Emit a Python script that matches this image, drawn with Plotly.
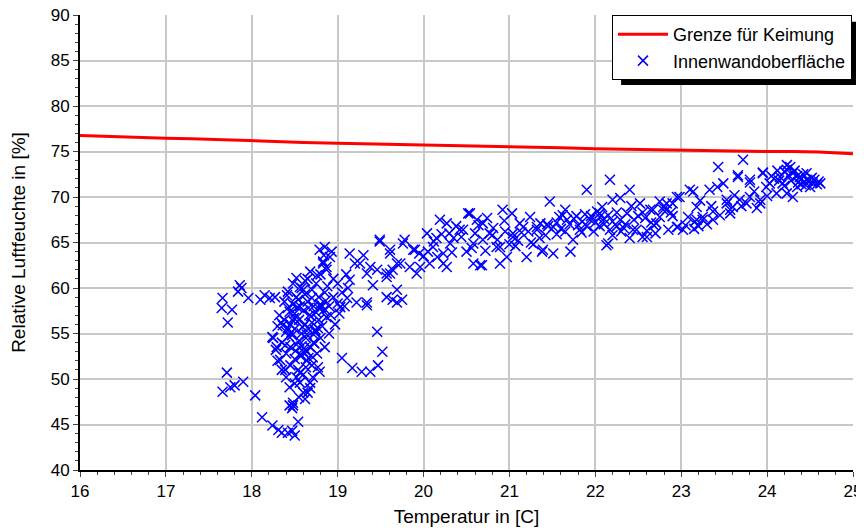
import plotly.graph_objects as go

# ── Grenzkurve (Keimung) ──────────────────────────────────────────────────────
grenze_t = [16.0, 16.3, 16.6, 17.0, 17.3, 17.6, 18.0, 18.3, 18.6, 19.0, 19.3, 19.6,
            20.0, 20.3, 20.6, 21.0, 21.3, 21.6, 22.0, 22.3, 22.6, 23.0, 23.3, 23.6,
            24.0, 24.3, 24.6, 25.0]
grenze_rh = [76.75, 76.65, 76.6, 76.45, 76.4, 76.3, 76.15, 76.1, 76.0, 75.9, 75.85, 75.8,
             75.7, 75.65, 75.55, 75.5, 75.45, 75.4, 75.3, 75.25, 75.2, 75.15, 75.1, 75.05,
             75.0, 75.0, 74.95, 74.75]

# ── Innenwandoberfläche: Temperatur / rel. Feuchte ───────────────────────────
wand_t = [
    17.66, 17.65, 17.77, 17.72, 17.86, 17.84, 17.88, 17.96, 18.1, 18.21, 17.71, 17.66, 17.75, 17.8,
    17.9, 18.04, 18.12, 18.24, 18.31, 18.35, 18.42, 18.5, 18.47, 18.54, 18.44, 18.48, 18.15, 18.41,
    18.27,
    18.39, 18.33, 18.29, 18.24, 18.44, 18.56, 18.6, 18.65, 18.48, 18.47, 18.68, 18.71, 18.77, 18.79,
    18.52, 18.55, 18.62,
    19.46, 19.52, 19.47, 19.38, 19.28, 19.17, 19.05, 19.34,
    18.25, 18.28, 18.3, 18.3, 18.32, 18.35, 18.35, 18.38, 18.38, 18.4, 18.4, 18.4, 18.42, 18.42,
    18.45, 18.45, 18.45, 18.47, 18.48, 18.48, 18.5, 18.5, 18.5, 18.5, 18.52, 18.52, 18.54, 18.55,
    18.55, 18.56, 18.57, 18.58, 18.58, 18.6, 18.6, 18.6, 18.62, 18.62, 18.63, 18.64, 18.65, 18.65,
    18.66, 18.67, 18.68, 18.68, 18.7, 18.7, 18.7, 18.72, 18.72, 18.74, 18.75, 18.75, 18.76, 18.78,
    18.78, 18.8, 18.8, 18.8, 18.82, 18.83, 18.85, 18.85, 18.87, 18.88, 18.9, 18.9, 18.92, 18.95,
    18.95, 18.97, 19.0, 19.0, 19.02, 19.05, 19.08, 19.1, 19.12,
    18.36, 18.43, 18.53, 18.61, 18.69, 18.57, 18.46, 18.34, 18.63, 18.73, 18.59, 18.51, 18.44,
    18.66, 18.77, 18.39, 18.49, 18.71, 18.81, 18.64,
    18.79, 18.85, 18.93, 18.83, 18.87, 18.76, 18.68, 18.52, 18.56, 18.6, 18.91, 18.83, 18.87, 18.84,
    19.14, 19.26, 19.34, 19.46, 19.57, 19.49, 19.61, 19.69, 19.64, 19.34, 19.22, 19.11, 19.03, 19.3,
    19.2, 19.38, 19.14, 19.41, 19.61, 19.75, 19.61, 19.49,
    19.78, 19.9, 19.57, 19.64, 19.73, 19.84, 19.92, 19.69, 19.57, 20.04, 20.19, 20.27, 20.11, 20.23,
    20.27, 20.07, 20.46, 20.54, 20.62, 20.58, 20.66, 20.69, 20.74, 20.89, 20.89, 20.92, 21.03, 21.04,
    21.16, 21.2, 21.32, 21.39,
    19.76, 19.69, 19.88, 19.96, 20.16, 20.23, 20.31, 20.42, 20.52, 20.58, 20.68, 20.69, 20.77, 20.85,
    20.97, 21.04, 21.12, 21.24, 21.32,
    20.0, 20.35, 20.5, 20.8, 21.0, 21.1, 21.25, 20.95, 20.6, 20.3, 20.15, 19.95,
    21.47, 21.51, 21.65, 21.67, 21.74, 21.82, 21.9, 21.94, 22.05, 22.17, 22.17, 22.2, 22.13, 21.38,
    21.51, 21.71, 22.15, 22.29, 22.4, 22.52, 22.48, 22.6, 22.71, 22.79, 22.83, 22.67, 22.29, 22.37,
    21.45, 21.55, 21.6, 21.7, 21.75, 21.8, 21.85, 21.9, 21.95, 22.0, 22.05, 22.1, 22.15, 22.2,
    22.25, 21.58, 21.65, 21.78, 21.88, 22.02, 21.42, 21.35, 21.55,
    22.05, 22.55, 22.44, 22.64, 22.79, 22.95, 22.95, 23.1, 23.18, 23.25, 23.37, 23.18, 23.33, 23.43,
    23.42, 23.49, 23.53, 23.57, 23.66, 23.72, 23.6, 23.76, 23.8, 23.92, 23.95, 23.99,
    23.66, 23.14, 22.98, 22.9, 22.83, 22.75, 22.96, 23.02, 23.16, 23.25, 23.37, 23.53, 23.57, 23.68,
    23.8, 23.92, 23.8, 23.95, 24.03, 24.11, 24.23, 24.27, 24.3, 24.38, 24.46, 24.53, 24.62, 24.35,
    24.23, 24.3, 24.15, 24.18, 24.5, 24.46, 24.23,
    24.2, 24.25, 24.32, 24.35, 24.4, 24.42, 24.48, 24.55, 24.58, 24.6, 24.28, 24.2, 24.12, 24.05,
    24.36, 24.45,
    22.1, 22.2, 22.3, 22.35, 22.45, 22.25, 22.5, 22.55, 22.4, 22.6, 22.7, 22.65, 22.85, 22.9, 22.75,
    23.05, 23.15, 23.3, 23.2,
    # zusätzliche Punkte im Band
    20.05, 20.12, 20.21, 20.33, 20.38, 20.44, 20.56, 20.64, 20.72, 20.81, 20.86, 20.94, 21.07, 21.14,
    21.22, 21.28, 21.36, 21.44, 21.62, 21.84, 21.98, 22.08, 22.33, 22.42, 22.58, 22.68, 22.88, 23.08,
    23.22, 23.35, 23.45, 23.62, 23.7, 23.85, 23.88, 24.0, 24.08, 24.14, 24.4, 24.52,
    18.58, 18.66, 18.74, 18.54, 18.62, 18.7, 18.48, 18.56, 18.64, 18.72, 18.42, 18.78, 18.86,
]
wand_rh = [
    58.9, 57.8, 57.6, 56.2, 60.3, 59.6, 60.0, 58.9, 58.7, 58.9, 50.7, 48.6, 49.1, 49.3,
    49.7, 48.2, 45.8, 44.9, 44.4, 44.1, 44.1, 43.8, 44.3, 45.3, 47.1, 47.4, 59.2, 59.2,
    59.0,
    51.0, 52.1, 53.5, 54.6, 49.1, 49.6, 48.5, 48.5, 47.1, 46.8, 49.6, 50.2, 51.3, 50.8,
    50.2, 48.0, 47.8,
    55.2, 53.0, 51.5, 50.8, 50.8, 51.2, 52.3, 58.1,
    54.5, 53.2, 55.8, 52.0, 57.0, 51.0, 54.0, 56.5, 58.5, 52.8, 55.2, 50.2, 57.8, 59.6,
    53.5, 56.0, 51.5, 54.8, 58.2, 60.5, 52.2, 55.5, 57.2, 49.5, 53.8, 59.0, 51.0, 56.5,
    54.2, 58.0, 52.5, 60.0, 55.0, 57.5, 53.0, 50.5, 56.0, 59.3, 54.5, 52.0, 58.5, 61.0,
    55.5, 57.0, 53.5, 49.0, 56.2, 59.8, 51.5, 54.0, 58.0, 55.2, 60.5, 57.3, 52.8, 56.5,
    59.0, 54.5, 58.2, 61.5, 55.8, 57.5, 59.5, 53.5, 56.8, 60.2, 58.0, 55.0, 57.0, 59.0,
    61.0, 56.0, 58.3, 60.5, 57.2, 59.5, 58.0, 61.5, 60.0,
    55.9, 54.7, 57.9, 53.4, 56.9, 52.7, 55.1, 56.2, 51.3, 53.9, 55.7, 53.1, 57.4,
    57.8, 55.6, 53.7, 56.7, 52.4, 57.9, 54.9,
    64.2, 64.5, 64.0, 62.7, 62.3, 61.4, 61.8, 61.1, 60.1, 59.8, 63.4, 62.9, 62.0, 63.6,
    63.8, 62.7, 61.6, 62.0, 61.2, 65.3, 63.8, 59.8, 58.7, 58.4, 58.4, 58.9, 57.9, 63.6,
    62.7, 62.3, 60.9, 60.3, 61.6, 58.7, 64.2, 65.1,
    65.3, 64.2, 61.6, 62.0, 62.7, 62.3, 61.6, 58.4, 59.0, 66.0, 67.5, 67.1, 64.5, 63.8,
    62.3, 62.7, 66.4, 68.2, 67.5, 62.7, 62.5, 65.3, 67.7, 64.5, 62.7, 68.6, 68.2, 65.6,
    66.7, 63.4, 66.4, 64.2,
    64.9, 62.7, 64.2, 62.3, 63.4, 62.7, 64.9, 66.4, 68.2, 64.9, 62.5, 67.1, 66.0, 64.5,
    63.4, 66.0, 67.1, 67.8, 66.7,
    63.5, 65.5, 64.0, 65.8, 64.8, 65.2, 65.0, 66.2, 66.0, 66.0, 65.5, 63.8,
    69.5, 66.7, 68.6, 67.5, 65.3, 66.4, 70.8, 67.5, 67.8, 71.9, 66.4, 69.7, 64.7, 64.0,
    63.8, 64.0, 64.9, 69.9, 70.8, 69.3, 66.4, 65.6, 67.1, 68.9, 69.3, 68.6, 67.5, 68.2,
    66.8, 67.2, 66.5, 67.0, 67.6, 66.9, 67.3, 66.8, 67.9, 67.2, 66.8, 67.6, 68.0, 67.3,
    68.3, 67.8, 66.2, 67.9, 68.1, 68.4, 65.8, 65.5, 65.9,
    68.2, 65.6, 66.4, 68.6, 68.6, 66.7, 70.0, 70.8, 68.9, 67.5, 67.5, 67.5, 70.8, 73.3,
    71.1, 71.5, 69.7, 68.2, 72.2, 74.1, 68.9, 69.3, 71.9, 69.7, 72.7, 71.1,
    72.4, 70.6, 70.0, 69.3, 68.6, 67.8, 66.7, 66.4, 67.3, 67.8, 68.4, 69.3, 68.6, 69.7,
    70.0, 69.3, 71.6, 72.6, 71.5, 70.4, 73.0, 73.3, 72.6, 72.2, 71.9, 71.6, 71.5, 71.1,
    70.4, 70.0, 72.2, 71.5, 71.1, 72.6, 73.5,
    72.8, 72.4, 72.9, 72.3, 72.0, 72.5, 71.8, 71.9, 71.4, 71.7, 71.8, 71.2, 72.9, 72.3,
    71.6, 71.3,
    67.0, 65.8, 66.2, 67.0, 67.5, 66.8, 67.9, 68.3, 65.5, 66.3, 66.0, 67.2, 66.4, 67.9, 69.5,
    66.9, 66.5, 67.0, 66.8,
    64.0, 65.1, 65.9, 63.9, 66.8, 65.6, 64.4, 66.9, 64.1, 66.6, 65.3, 67.4, 64.6, 66.1,
    66.2, 64.8, 67.1, 67.0, 68.0, 66.1, 66.2, 68.9, 66.6, 69.0, 67.7, 66.9, 68.3, 67.8,
    69.6, 69.0, 68.0, 70.2, 69.0, 70.6, 68.8, 70.1, 72.0, 71.8, 71.4, 72.1,
    53.6, 52.3, 55.4, 58.7, 60.8, 58.9, 56.4, 50.7, 53.0, 54.9, 55.6, 57.8, 58.6,
]

FONT = "Liberation Sans, Arial, sans-serif"

fig = go.Figure()
fig.add_trace(go.Scatter(
    x=grenze_t, y=grenze_rh,
    mode="lines",
    name="Grenze für Keimung",
    line=dict(color="#ff0000", width=3),
))
fig.add_trace(go.Scatter(
    x=wand_t, y=wand_rh,
    mode="markers",
    name="Innenwandoberfläche",
    marker=dict(symbol="x-thin", size=10, color="#0000ff",
                line=dict(color="#0000ff", width=1.5)),
))

# Schlagschatten der Legende
fig.add_shape(type="rect", xref="paper", yref="paper",
              x0=0.70, x1=1.009, y0=0.846, y1=0.985,
              fillcolor="black", line=dict(width=0), layer="above")

# die Seite hat 8 px Rand -> Figur 856x524
fig.update_layout(
    width=856, height=524,
    margin=dict(l=72, r=11, t=7, b=62),
    plot_bgcolor="white", paper_bgcolor="white",
    font=dict(family=FONT, size=16, color="black"),
    showlegend=True,
    legend=dict(x=0.9987, xanchor="right", y=1.0, yanchor="top",
                bgcolor="white", bordercolor="black", borderwidth=1,
                font=dict(size=18), tracegroupgap=0, itemwidth=50),
    xaxis=dict(
        range=[16, 25], dtick=1, showgrid=True, gridcolor="#c8c8c8", gridwidth=1.5,
        showline=True, linecolor="black", linewidth=2, ticks="outside", ticklen=5,
        tickcolor="#444", tickfont=dict(size=17), ticklabeloverflow="allow",
        minor=dict(dtick=0.2, ticks="outside", ticklen=3, tickcolor="#444", showgrid=False),
        title=dict(text="Temperatur in [C]", standoff=9), zeroline=False,
        automargin=False,
    ),
    yaxis=dict(
        range=[40, 90], dtick=5, showgrid=True, gridcolor="#c8c8c8", gridwidth=1.5,
        showline=True, linecolor="black", linewidth=2, ticks="outside", ticklen=5,
        tickcolor="#444", tickfont=dict(size=17), ticklabeloverflow="allow",
        minor=dict(dtick=1, ticks="outside", ticklen=3, tickcolor="#444", showgrid=False),
        title=dict(text="Relative Luftfeuchte in [%]", standoff=22), zeroline=False,
        automargin=False,
    ),
)

fig.write_html("out.html")
